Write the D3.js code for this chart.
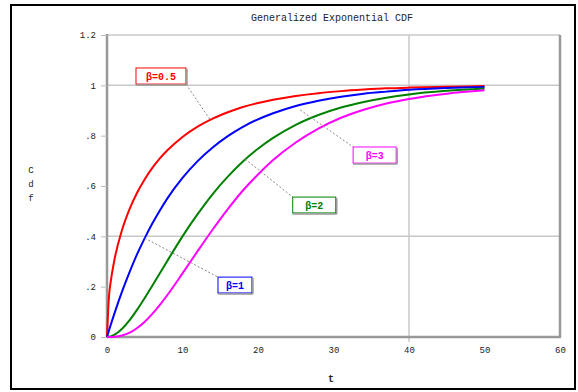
<!DOCTYPE html>
<html><head><meta charset="utf-8">
<script src="https://cdn.jsdelivr.net/npm/d3@7"></script>
<style>body{margin:0;background:#fff}svg{display:block}</style>
</head><body>
<script>
const tValues = [0,0.25,0.5,1,2,3,4,5,6,7,8,10,12,14,16,18,20,22,25,28,31,34,37,40,45,50];
const beta05 = [0,0.157,0.221,0.309,0.426,0.509,0.574,0.627,0.672,0.710,0.742,0.795,0.836,0.868,0.893,0.914,0.930,0.943,0.958,0.969,0.977,0.983,0.988,0.991,0.994,0.997];
const beta1  = [0,0.025,0.049,0.095,0.181,0.259,0.330,0.393,0.451,0.503,0.551,0.632,0.699,0.753,0.798,0.835,0.865,0.889,0.918,0.939,0.955,0.967,0.975,0.982,0.989,0.993];
const beta2  = [0,0.001,0.002,0.009,0.033,0.067,0.109,0.155,0.204,0.253,0.303,0.400,0.488,0.568,0.637,0.697,0.748,0.791,0.843,0.882,0.912,0.934,0.951,0.964,0.978,0.987];
const beta3  = [0,0.000,0.000,0.001,0.006,0.017,0.036,0.061,0.092,0.128,0.167,0.253,0.341,0.427,0.508,0.582,0.646,0.703,0.773,0.828,0.871,0.903,0.928,0.946,0.967,0.980];
const seriesNames = ["β=0.5","β=1","β=2","β=3"];
const seriesColors = ["#ff0000","#0000ff","#008000","#ff00ff"];
const xTicks = [0,10,20,30,40,50,60];
const xTickLabels = ["0","10","20","30","40","50","60"];
const yTicks = [0,0.2,0.4,0.6,0.8,1,1.2];
const yTickLabels = ["0",".2",".4",".6",".8","1","1.2"];
const gridX = [40];
const gridY = [0.4,1];
// label boxes [t0, F0, t1, F1] and anchor point [t, F] on curve
const labelBoxes = [[3.84,1.069,10.46,1.005],[14.7,0.238,19.2,0.175],[24.6,0.556,30.3,0.493],[32.6,0.755,38.3,0.691]];
const labelAnchors = [[13.6,0.866],[5.0,0.393],[18.3,0.707],[25.6,0.902]];

const W=578,H=392;
const svg=d3.select("body").append("svg").attr("width",W).attr("height",H);
const font="'Liberation Mono','DejaVu Sans Mono',monospace";
svg.append("rect").attr("x",11).attr("y",5).attr("width",564).attr("height",384)
  .attr("fill","none").attr("stroke","#000").attr("stroke-width",2);

const x=d3.scaleLinear().domain([0,60]).range([107,560]);
const y=d3.scaleLinear().domain([0,1.2]).range([337,35]);

svg.append("text").attr("x",332).attr("y",21).attr("text-anchor","middle")
  .attr("font-family",font).attr("font-size",10).attr("fill","#222").text("Generalized Exponential CDF");

// grid
svg.selectAll(".gy").data(gridY).enter().append("line")
  .attr("x1",x(0)).attr("x2",x(60)).attr("y1",d=>y(d)).attr("y2",d=>y(d))
  .attr("stroke","#c8c8c8").attr("stroke-width",1.5);
svg.selectAll(".gx").data(gridX).enter().append("line")
  .attr("x1",d=>x(d)).attr("x2",d=>x(d)).attr("y1",y(1.2)).attr("y2",y(0)+5)
  .attr("stroke","#c8c8c8").attr("stroke-width",1.5);

// frame
svg.append("line").attr("x1",x(0)).attr("x2",x(60)).attr("y1",y(1.2)).attr("y2",y(1.2)).attr("stroke","#c8c8c8").attr("stroke-width",1.5);
svg.append("line").attr("x1",x(60)).attr("x2",x(60)).attr("y1",y(1.2)).attr("y2",y(0)).attr("stroke","#999").attr("stroke-width",2.5);
svg.append("line").attr("x1",x(0)).attr("x2",x(0)).attr("y1",y(1.2)-1).attr("y2",y(0)).attr("stroke","#999").attr("stroke-width",2.5);
svg.append("line").attr("x1",x(0)-1).attr("x2",x(60)+1).attr("y1",y(0)).attr("y2",y(0)).attr("stroke","#999").attr("stroke-width",2.5);

// axes
const yAxis=d3.axisLeft(y).tickValues(yTicks).tickFormat((d,i)=>yTickLabels[i]).tickSize(6).tickPadding(5);
const gy=svg.append("g").attr("transform",`translate(${x(0)},0)`).call(yAxis);
gy.select(".domain").remove();
gy.selectAll("line").attr("stroke","#bbb");
gy.selectAll("text").attr("font-family",font).attr("font-size",9).attr("fill","#222");
const xAxis=d3.axisBottom(x).tickValues(xTicks).tickFormat((d,i)=>xTickLabels[i]).tickSize(0).tickPadding(10);
const gx=svg.append("g").attr("transform",`translate(0,${y(0)})`).call(xAxis);
gx.select(".domain").remove();
gx.selectAll("text").attr("font-family",font).attr("font-size",9).attr("fill","#222");

// axis titles
svg.append("text").attr("x",331).attr("y",382).attr("text-anchor","middle")
  .attr("font-family",font).attr("font-size",10).attr("font-weight","bold").attr("fill","#222").text("t");
["C","d","f"].forEach((c,i)=>svg.append("text").attr("x",31).attr("y",173+i*14).attr("text-anchor","middle")
  .attr("font-family",font).attr("font-size",9).attr("fill","#222").text(c));

// curves
const allSeries=[beta05,beta1,beta2,beta3];
const line=d3.line().x((d,i)=>x(tValues[i])).y(d=>y(d)).curve(d3.curveMonotoneX);
allSeries.forEach((s,k)=>{
  svg.append("path").datum(s).attr("d",line).attr("fill","none")
    .attr("stroke",seriesColors[k]).attr("stroke-width",2);
});

// labels
labelBoxes.forEach((b,k)=>{
  const x0=x(b[0]),x1=x(b[2]),y0=y(b[1]),y1=y(b[3]);
  const a=labelAnchors[k];
  // leader from nearest box corner
  const cx = Math.abs(x(a[0])-x0)<Math.abs(x(a[0])-x1)?x0:x1;
  const cy = Math.abs(y(a[1])-y0)<Math.abs(y(a[1])-y1)?y0:y1;
  svg.append("line").attr("x1",x(a[0])).attr("y1",y(a[1])).attr("x2",cx).attr("y2",cy)
    .attr("stroke","#888").attr("stroke-width",1).attr("stroke-dasharray","2,2");
  svg.append("rect").attr("x",x0).attr("y",y0).attr("width",x1-x0).attr("height",y1-y0)
    .attr("fill","#fff").attr("stroke",seriesColors[k]).attr("stroke-width",1);
  svg.append("line").attr("x1",x0).attr("x2",x1+1).attr("y1",y1+1).attr("y2",y1+1).attr("stroke","#999").attr("stroke-width",1.5);
  svg.append("line").attr("x1",x1+1).attr("x2",x1+1).attr("y1",y0+1).attr("y2",y1+1).attr("stroke","#999").attr("stroke-width",1.5);
  svg.append("text").attr("x",(x0+x1)/2).attr("y",(y0+y1)/2+3.5).attr("text-anchor","middle")
    .attr("font-family",font).attr("font-size",10).attr("font-weight","bold").attr("fill",seriesColors[k]).text(seriesNames[k]);
});
</script>
</body></html>
